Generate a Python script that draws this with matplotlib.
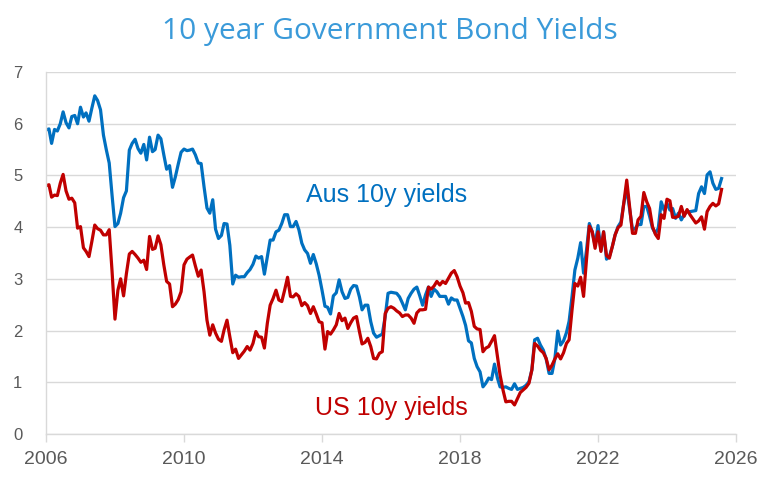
"""10 year government bond yields: Australia vs US."""

import datetime as dt

import matplotlib
matplotlib.use("Agg")
import matplotlib.dates as mdates
import matplotlib.pyplot as plt
import pandas as pd

# Monthly yields (%), one row per year, starting Jan 2006.
AUS_10Y = [
    5.88, 5.90, 5.62, 5.89, 5.86, 6.00, 6.23, 6.02, 5.92, 6.14, 6.16, 6.00,
    6.32, 6.13, 6.21, 6.05, 6.30, 6.54, 6.45, 6.27, 5.78, 5.50, 5.24, 4.62,
    4.01, 4.07, 4.27, 4.57, 4.70, 5.49, 5.62, 5.70, 5.52, 5.43, 5.60, 5.30,
    5.74, 5.46, 5.50, 5.78, 5.71, 5.40, 5.12, 5.19, 4.77, 4.97, 5.22, 5.45,
    5.51, 5.48, 5.49, 5.51, 5.40, 5.24, 5.23, 4.78, 4.37, 4.27, 4.53, 3.96,
    3.78, 3.84, 4.07, 4.06, 3.65, 2.90, 3.07, 3.03, 3.04, 3.04, 3.12, 3.18,
    3.28, 3.44, 3.40, 3.43, 3.09, 3.43, 3.75, 3.75, 3.91, 3.94, 4.07, 4.24,
    4.24, 4.01, 4.01, 4.11, 3.95, 3.69, 3.56, 3.49, 3.30, 3.47, 3.29, 3.07,
    2.78, 2.47, 2.45, 2.32, 2.67, 2.73, 2.98, 2.75, 2.62, 2.64, 2.80, 2.87,
    2.86, 2.65, 2.40, 2.49, 2.49, 2.17, 1.95, 1.87, 1.90, 1.93, 2.27, 2.72,
    2.74, 2.73, 2.72, 2.65, 2.53, 2.40, 2.62, 2.72, 2.80, 2.84, 2.67, 2.49,
    2.69, 2.84, 2.66, 2.80, 2.75, 2.66, 2.66, 2.66, 2.51, 2.63, 2.59, 2.59,
    2.43, 2.27, 2.10, 1.80, 1.76, 1.46, 1.30, 1.20, 0.91, 0.98, 1.08, 1.05,
    1.35, 1.08, 0.91, 0.90, 0.91, 0.88, 0.86, 0.97, 0.86, 0.88, 0.90, 0.94,
    1.01, 1.24, 1.82, 1.85, 1.72, 1.62, 1.45, 1.17, 1.17, 1.45, 1.99, 1.72,
    1.80, 1.96, 2.18, 2.66, 3.17, 3.40, 3.70, 3.11, 3.55, 4.07, 3.91, 3.65,
    4.03, 3.55, 3.91, 3.38, 3.43, 3.62, 3.85, 4.01, 4.10, 4.46, 4.75, 4.35,
    3.95, 3.98, 4.05, 4.05, 4.40, 4.40, 4.21, 3.98, 3.88, 3.98, 4.49, 4.33,
    4.46, 4.33, 4.36, 4.17, 4.27, 4.14, 4.24, 4.30, 4.30, 4.31, 4.32, 4.65,
    4.78, 4.65, 5.01, 5.07, 4.85, 4.73, 4.75, 4.94,
]

US_10Y = [
    4.80, 4.82, 4.58, 4.62, 4.61, 4.85, 5.02, 4.70, 4.54, 4.56, 4.47, 3.98,
    4.01, 3.60, 3.53, 3.43, 3.72, 4.04, 3.97, 3.94, 3.85, 3.85, 3.95, 3.15,
    2.22, 2.78, 3.00, 2.67, 3.10, 3.48, 3.53, 3.47, 3.40, 3.32, 3.36, 3.18,
    3.82, 3.57, 3.59, 3.83, 3.66, 3.27, 2.95, 2.90, 2.46, 2.51, 2.60, 2.75,
    3.27, 3.38, 3.42, 3.46, 3.25, 3.05, 3.17, 2.75, 2.20, 1.91, 2.11, 1.95,
    1.83, 1.79, 2.01, 2.20, 1.88, 1.57, 1.64, 1.46, 1.53, 1.60, 1.69, 1.62,
    1.75, 1.98, 1.88, 1.87, 1.66, 2.14, 2.49, 2.62, 2.78, 2.59, 2.56, 2.78,
    3.03, 2.66, 2.65, 2.71, 2.66, 2.48, 2.54, 2.48, 2.33, 2.46, 2.32, 2.17,
    2.15, 1.64, 1.98, 1.93, 2.01, 2.11, 2.33, 2.19, 2.24, 2.04, 2.15, 2.24,
    2.27, 1.98, 1.74, 1.77, 1.85, 1.69, 1.46, 1.45, 1.56, 1.59, 2.33, 2.43,
    2.46, 2.43, 2.38, 2.34, 2.27, 2.30, 2.30, 2.24, 2.14, 2.34, 2.40, 2.40,
    2.41, 2.84, 2.80, 2.86, 2.95, 2.88, 2.95, 2.91, 3.01, 3.11, 3.16, 3.04,
    2.86, 2.73, 2.53, 2.54, 2.37, 2.08, 2.03, 2.02, 1.59, 1.66, 1.69, 1.79,
    1.90, 1.50, 1.14, 0.85, 0.62, 0.63, 0.63, 0.56, 0.68, 0.80, 0.85, 0.90,
    0.98, 1.24, 1.75, 1.70, 1.62, 1.57, 1.46, 1.24, 1.33, 1.45, 1.55, 1.45,
    1.57, 1.75, 1.82, 2.40, 2.91, 2.86, 3.03, 2.66, 3.37, 4.02, 3.91, 3.59,
    3.91, 3.53, 3.91, 3.45, 3.40, 3.62, 3.85, 3.99, 4.04, 4.46, 4.91, 4.40,
    3.88, 3.88, 4.14, 4.21, 4.67, 4.49, 4.36, 4.01, 3.86, 3.78, 4.24, 4.17,
    4.54, 4.51, 4.19, 4.19, 4.21, 4.40, 4.21, 4.34, 4.24, 4.16, 4.08, 4.12,
    4.20, 3.96, 4.30, 4.40, 4.46, 4.41, 4.45, 4.73,
]

START = "2006-01-01"
TICK_YEARS = [2006, 2010, 2014, 2018, 2022, 2026]
TITLE = "10 year Government Bond Yields"
AUS_LABEL = "Aus 10y yields"
US_LABEL = "US 10y yields"

AUS_COLOR = "#0070C0"
US_COLOR = "#C00000"
TITLE_COLOR = "#3A9AD9"
GRID_COLOR = "#D9D9D9"
TICK_COLOR = "#595959"


def _main() -> None:
    plt.rcParams["font.family"] = ["Liberation Sans", "DejaVu Sans"]

    dates = pd.date_range(START, periods=len(AUS_10Y), freq="MS")

    fig = plt.figure(figsize=(7.67, 4.97), dpi=100)
    ax = fig.add_axes([0.06, 0.127, 0.8996, 0.728])

    ax.plot(dates, AUS_10Y, color=AUS_COLOR, lw=2.3, solid_joinstyle="round")
    ax.plot(dates, US_10Y, color=US_COLOR, lw=2.3, solid_joinstyle="round")

    ax.set_xlim(dt.datetime(TICK_YEARS[0], 1, 1),
                dt.datetime(TICK_YEARS[-1], 1, 1))
    ax.set_ylim(0, 7)
    ax.set_xticks([dt.datetime(y, 1, 1) for y in TICK_YEARS])
    ax.xaxis.set_major_formatter(mdates.DateFormatter("%Y"))
    ax.set_yticks(range(0, 8))

    ax.grid(axis="y", color=GRID_COLOR, lw=1)
    ax.set_axisbelow(True)
    for side in ("top", "right"):
        ax.spines[side].set_visible(False)
    for side in ("left", "bottom"):
        ax.spines[side].set_color(GRID_COLOR)
        ax.spines[side].set_linewidth(1)

    ax.tick_params(axis="x", colors=TICK_COLOR, labelsize=14, length=6,
                   width=1, color=GRID_COLOR, pad=6)
    ax.tick_params(axis="y", colors=TICK_COLOR, labelsize=12, length=0,
                   pad=17)

    ax.text(dt.datetime(2015, 11, 20), 4.62, AUS_LABEL, color=AUS_COLOR,
            fontsize=18, ha="center", va="center")
    ax.text(dt.datetime(2016, 1, 1), 0.50, US_LABEL, color=US_COLOR,
            fontsize=18, ha="center", va="center")

    fig.text(0.508, 0.936, TITLE, color=TITLE_COLOR, fontsize=21.5,
             ha="center", va="center", family=["Open Sans", "DejaVu Sans"])

    fig.savefig("out.png", dpi=100)


if __name__ == "__main__":
    _main()
